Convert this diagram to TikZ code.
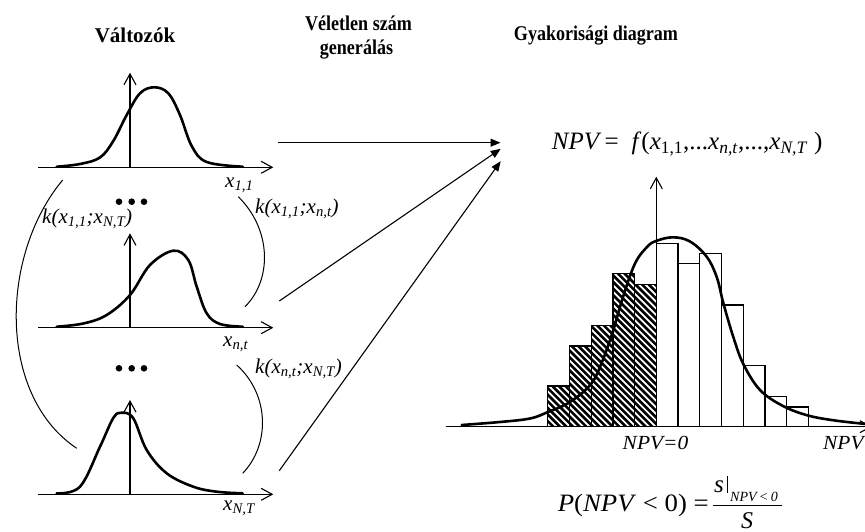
\documentclass[tikz,border=0pt]{standalone}
\usepackage{fontspec}
\setmainfont{Liberation Serif}
\usepackage{graphicx}
\usetikzlibrary{arrows.meta}
\newcommand{\hsq}[2][0.86]{\scalebox{#1}[1]{#2}}
\begin{document}
\begin{tikzpicture}[x=1pt,y=-1pt,
  ax/.style={line width=1.1pt,-{Straight Barb[length=11pt,width=12pt]}},
  dens/.style={line width=2.6pt,line cap=round},
  corrarc/.style={line width=1pt},
  conn/.style={line width=1.1pt,-{Triangle[length=10pt,width=8pt]}},
  title/.style={font=\fontsize{21}{24}\selectfont\bfseries,inner sep=0pt},
  lab/.style={font=\fontsize{21}{21}\selectfont\itshape,inner sep=0pt},
  bar/.style={line width=1.2pt},
  dot/.style={fill=black},
]
\useasboundingbox (0,0) rectangle (865,532);

% titles
\node[title,anchor=base] (t1) at (135,42.3) {Változók};
\node[title,anchor=base] (t2a) at (358.5,30.7) {\hsq{Véletlen szám}};
\node[title,anchor=base] (t2b) at (356.5,54.3) {\hsq{generálás}};
\node[title,anchor=base] (t3) at (596,40.7) {\hsq{Gyakorisági diagram}};

% panel 1
\draw[ax] (38.3,167.3) -- (273.3,167.3);
\draw[ax] (130,167.3) -- (130,72.7);
\draw[dens] plot[smooth,tension=0.6] coordinates {(56.7,166.7) (80,164) (100,157.5) (113.3,141) (126.7,115) (140,93.3) (154.3,87.3) (168.3,93.3) (180,115) (191.7,146) (206.7,162) (242.7,166.7)};
\node[lab,anchor=base west] (x11) at (225,187) {x\textsubscript{1,1}};

% panel 2
\draw[ax] (38.3,327.7) -- (273.3,327.7);
\draw[ax] (130,327.7) -- (130,233.3);
\draw[dens] plot[smooth,tension=0.6] coordinates {(56.7,326.7) (83.3,323.5) (106.7,315) (130,295) (150,265) (173.3,250.7) (188.3,260) (196.7,286.7) (206.7,313.3) (220,324) (242.7,326.7)};
\node[lab,anchor=base west] (xnt) at (223,346.7) {x\textsubscript{n,t}};
\foreach \xx in {119,131.7,144} \fill[dot] (\xx,201.7) circle (3.3pt);

% panel 3
\draw[ax] (38.3,494.3) -- (273.3,494.3);
\draw[ax] (130,494.3) -- (130,400);
\draw[dens] plot[smooth,tension=0.6] coordinates {(56.7,493.3) (80,486.7) (100,446.7) (113.3,418) (121.7,412.7) (133.3,418.3) (146.7,450) (166.7,473.3) (193.3,486.7) (216.7,491.7) (242.7,493.3)};
\node[lab,anchor=base west] (xNT) at (223,510) {x\textsubscript{N,T}};
\foreach \xx in {119,131.7,144} \fill[dot] (\xx,368.3) circle (3.3pt);

% correlation arcs
\draw[corrarc] (62.7,180) .. controls (0,255) and (-3,395) .. (76.7,448.3);
\draw[corrarc] (238.3,196.7) .. controls (272,230) and (272,280) .. (245,306.7);
\draw[corrarc] (236.7,365) .. controls (270,395) and (270,445) .. (242.7,473.3);
\node[lab,anchor=base west] (k1) at (42,223.3) {k(x\textsubscript{1,1};x\textsubscript{N,T})};
\node[lab,anchor=base west] (k2) at (255,213.3) {k(x\textsubscript{1,1};x\textsubscript{n,t})};
\node[lab,anchor=base west] (k3) at (255,373.3) {k(x\textsubscript{n,t};x\textsubscript{N,T})};

% connectors
\coordinate (s1) at (278.3,142.7);
\coordinate (s2) at (279.3,301);
\coordinate (s3) at (279.3,470.7);
\coordinate (e1) at (500.5,142.7);
\coordinate (e2) at (500.7,148.8);
\coordinate (e3) at (500.7,161.2);
\draw[conn] (s1) -- (e1);
\draw[conn] (s2) -- (e2);
\draw[conn] (s3) -- (e3);

% NPV formula
\node[anchor=base west,font=\fontsize{25}{25}\selectfont,inner sep=0pt] (npvf) at (551.7,149.3)
  {\textit{NPV}\kern3pt=\kern13pt\textit{f}(\textit{x}\textsubscript{1,1},...\textit{x}\textsubscript{\textit{n,t}},...,\textit{x}\textsubscript{\textit{N,T}} )};

% histogram: hatching
\begin{scope}
\clip (547.7,426.7) -- (547.7,386) -- (569.4,386) -- (569.4,346) -- (591.1,346) -- (591.1,325.7) -- (612.9,325.7) -- (612.9,273.7) -- (634.6,273.7) -- (634.6,284.3) -- (656.3,284.3) -- (656.3,426.7) -- cycle;
\foreach \a in {370,376.6,...,662} \draw[line width=2.6pt] (\a,250) -- ++(180,180);
\end{scope}
% bars
\foreach \l/\r/\t in {547.7/569.4/386, 569.4/591.1/346, 591.1/612.9/325.7, 612.9/634.6/273.7, 634.6/656.3/284.3, 656.3/678.0/243.3, 678.0/699.7/263.7, 699.7/721.4/253.7, 721.4/743.2/305, 743.2/764.9/365.7, 764.9/786.6/396.3, 786.6/808.3/407}
  \draw[bar] (\l,426.7) rectangle (\r,\t);
% axes
\draw[ax] (445.7,426.7) -- (872,426.7);
\draw[ax] (656.3,426.7) -- (656.3,176.7);
% fitted curve
\draw[dens] plot[smooth,tension=0.6] coordinates {(461.7,425) (500,422) (530,418.5) (548,412) (570,402) (591,384) (602,362) (613,331) (623,297) (635,263.5) (647,247) (656,241) (673,237.3) (690,241.5) (706.7,256.7) (716.7,277) (723.3,303) (733.3,337) (743.3,364) (760,390) (783,406) (808,415.5) (835,420.5) (866,424)};

\node[anchor=base,font=\fontsize{20}{20}\selectfont\itshape,inner sep=0pt] (npv0) at (655.5,449.3) {\hsq[1.07]{NPV=0}};
\node[anchor=base west,font=\fontsize{20}{20}\selectfont\itshape,inner sep=0pt] (npvax) at (823,449.3) {\hsq[1.07]{NPV}};

% probability formula
\node[anchor=base west,font=\fontsize{25}{25}\selectfont,inner sep=0pt] (pform) at (557.7,511.2)
  {\hsq[1.07]{\textit{P}(\textit{NPV} < 0) =}};
\node[anchor=base west,font=\fontsize{25}{25}\selectfont\itshape,inner sep=0pt] (num) at (714,492.8) {s};
\coordinate (vb1) at (727.7,476.2);
\coordinate (vb2) at (727.7,492.8);
\draw[line width=0.9pt] (vb1) -- (vb2);
\node[anchor=base west,font=\fontsize{14}{14}\selectfont\itshape,inner sep=0pt] (sub) at (730,501.2) {NPV\,<\,0};
\coordinate (fl) at (712.7,505.2);
\coordinate (fr) at (782.3,505.2);
\draw[line width=1pt] (fl) -- (fr);
\node[anchor=base,font=\fontsize{24}{24}\selectfont\itshape,inner sep=0pt] (den) at (747,528) {S};
\end{tikzpicture}
\end{document}
